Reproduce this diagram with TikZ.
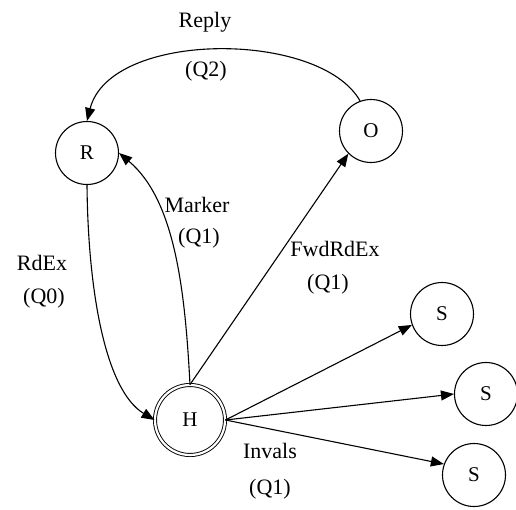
\documentclass[tikz,border=0pt]{standalone}
\usepackage{fontspec}
\setmainfont{Liberation Serif}
\usetikzlibrary{arrows.meta}
\begin{document}
\begin{tikzpicture}[x=1pt,y=-1pt,
  state/.style={draw,circle,line width=1.1pt,minimum size=63pt,inner sep=0pt,font=\fontsize{21}{24}\selectfont},
  home/.style={draw,circle,line width=0.9pt,double,double distance=2.2pt,minimum size=70pt,inner sep=0pt,font=\fontsize{21}{24}\selectfont},
  msg/.style={line width=1.1pt,-{Triangle[length=13pt,width=10pt]}},
  lbl/.style={font=\fontsize{22}{26}\selectfont,inner sep=0pt}]
\useasboundingbox (0,0) rectangle (516,509);
\fill[white] (0,0) rectangle (516,509);
% processors
\node[state] (R) at (87,153) {R};
\node[state] (O) at (371,131) {O};
\node[home]  (H) at (190,420) {H};
\node[state] (S1) at (442,314) {S};
\node[state] (S2) at (486,394) {S};
\node[state] (S3) at (474,475) {S};
% messages
\draw[msg] (O.110) .. controls (320,30) and (110,30) .. (R.north);
\draw[msg] (H.north) .. controls (185,290) and (175,200) .. (R.east);
\draw[msg] (H.north) -- (O.225);
\draw[msg] (R.south) .. controls (88,290) and (105,390) .. (H.west);
\draw[msg] (H.east) -- (S1.200);
\draw[msg] (H.east) -- (S2.west);
\draw[msg] (H.east) -- (S3.160);
% labels
\node[lbl] (lr) at (205,22) {Reply};
\node[lbl] (lr2) at (206,71) {(Q2)};
\node[lbl] (lm) at (197,205) {Marker};
\node[lbl] (lm2) at (199,238) {(Q1)};
\node[lbl] (lf) at (335,249) {FwdRdEx};
\node[lbl] (lf2) at (328,284) {(Q1)};
\node[lbl] (ld) at (42,263) {RdEx};
\node[lbl] (ld2) at (44,298) {(Q0)};
\node[lbl] (li) at (270,451) {Invals};
\node[lbl] (li2) at (270,489) {(Q1)};
\end{tikzpicture}
\end{document}
